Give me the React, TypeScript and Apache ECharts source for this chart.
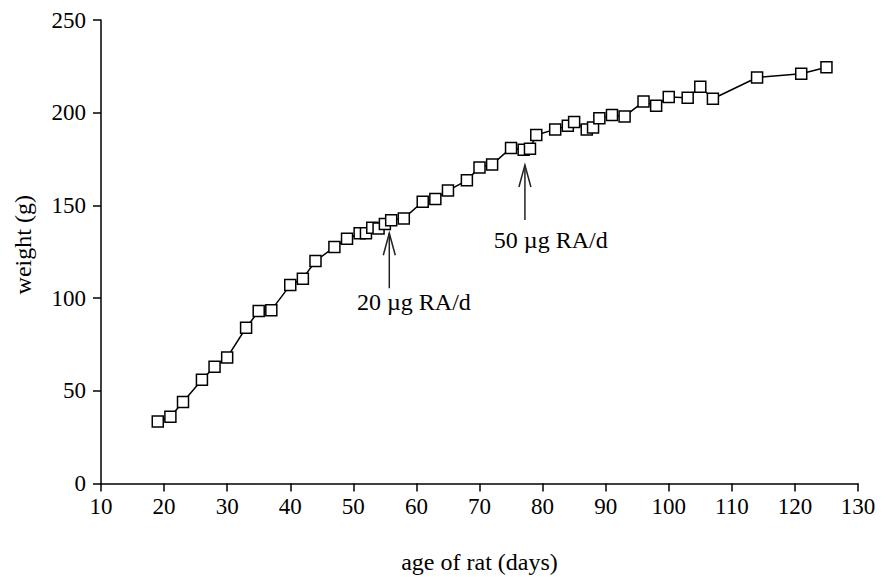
import React, { useEffect, useRef } from "react";
import * as echarts from "echarts";

const ageDays = [19, 21, 23, 26, 28, 30, 33, 35, 37, 40, 42, 44, 47, 49, 51, 52, 53, 54, 55, 56, 58, 61, 63, 65, 68, 70, 72, 75, 77, 78, 79, 82, 84, 85, 87, 88, 89, 91, 93, 96, 98, 100, 103, 105, 107, 114, 121, 125];
const weightG = [33.5, 36, 44, 56, 63, 68, 84, 93, 93.5, 107, 110.5, 120, 127.5, 132, 135, 135, 138, 137.5, 140, 142, 143, 152, 153.5, 158, 163.5, 170.5, 172, 181, 180, 180.5, 188, 191, 193, 195, 191, 192, 197, 198.7, 198, 206, 203.7, 208.5, 208, 214, 207.5, 219, 221, 224.5];

const xTicks = { min: 10, max: 130, interval: 10 };
const yTicks = { min: 0, max: 250, interval: 50 };

const noteText = ["20 µg RA/d", "50 µg RA/d"];
const noteX = [55.7, 77.2];
const noteTipY = [135, 171.8];
const noteBaseY = [105.3, 142.1];
const noteLabelX = [59.6, 81.3];
const noteLabelY = [97.9, 131.3];

const FONT = '"Liberation Serif", "Times New Roman", serif';

export default function App() {
  const ref = useRef<HTMLDivElement>(null);
  useEffect(() => {
    if (!ref.current) return;
    const chart = echarts.init(ref.current, undefined, { renderer: "svg" });
    const axisCommon = {
      splitLine: { show: false },
      axisLine: { lineStyle: { color: "#000", width: 1.5 } },
      axisTick: { show: true, inside: false, length: 8, lineStyle: { color: "#000", width: 1.5 } },
      nameLocation: "middle" as const,
    };
    chart.setOption({
      animation: false,
      backgroundColor: "#fff",
      grid: { left: 101, right: 30, top: 20, bottom: 93.5, containLabel: false, outerBoundsMode: "none" },
      xAxis: {
        ...axisCommon,
        type: "value",
        min: xTicks.min,
        max: xTicks.max,
        interval: xTicks.interval,
        name: "age of rat (days)",
        nameGap: 66,
        nameTextStyle: { fontFamily: FONT, fontSize: 24, color: "#000" },
        axisLabel: { fontFamily: FONT, fontSize: 23, color: "#000", margin: 11 },
      },
      yAxis: {
        ...axisCommon,
        type: "value",
        min: yTicks.min,
        max: yTicks.max,
        interval: yTicks.interval,
        name: "weight (g)",
        nameGap: 66,
        nameTextStyle: { fontFamily: FONT, fontSize: 24, color: "#000", padding: [0, 0, 0, 14] },
        axisLabel: { fontFamily: FONT, fontSize: 23, color: "#000", margin: 15 },
      },
      series: [
        {
          type: "line",
          data: ageDays.map((d, i) => [d, weightG[i]]),
          showAllSymbol: true,
          symbol: "rect",
          symbolSize: 11,
          lineStyle: { color: "#000", width: 1.5 },
          itemStyle: { color: "#fff", borderColor: "#000", borderWidth: 1.5 },
          z: 3,
        },
        {
          type: "custom",
          data: noteX.map((x, i) => [x, noteTipY[i], noteBaseY[i], noteLabelX[i], noteLabelY[i]]),
          encode: { x: 0, y: 1 },
          clip: false,
          z: 2,
          renderItem: (params: any, api: any) => {
            const tip = api.coord([api.value(0), api.value(1)]);
            const base = api.coord([api.value(0), api.value(2)]);
            const lab = api.coord([api.value(3), api.value(4)]);
            return {
              type: "group",
              children: [
                {
                  type: "line",
                  shape: { x1: base[0], y1: base[1], x2: tip[0], y2: tip[1] },
                  style: { stroke: "#222", lineWidth: 1.5 },
                },
                {
                  type: "polyline",
                  shape: {
                    points: [
                      [tip[0] - 6, tip[1] + 22],
                      [tip[0], tip[1]],
                      [tip[0] + 6, tip[1] + 22],
                    ],
                  },
                  style: { stroke: "#222", fill: null, lineWidth: 1.5 },
                },
                {
                  type: "text",
                  x: lab[0],
                  y: lab[1],
                  style: {
                    text: noteText[params.dataIndex],
                    fill: "#000",
                    fontFamily: FONT,
                    fontSize: 24,
                    align: "center",
                    verticalAlign: "middle",
                  },
                },
              ],
            };
          },
        },
      ],
    });
    return () => chart.dispose();
  }, []);
  return (
    <div
      ref={ref}
      style={{ position: "fixed", left: 0, top: 0, width: 888, height: 577, background: "#fff" }}
    />
  );
}
